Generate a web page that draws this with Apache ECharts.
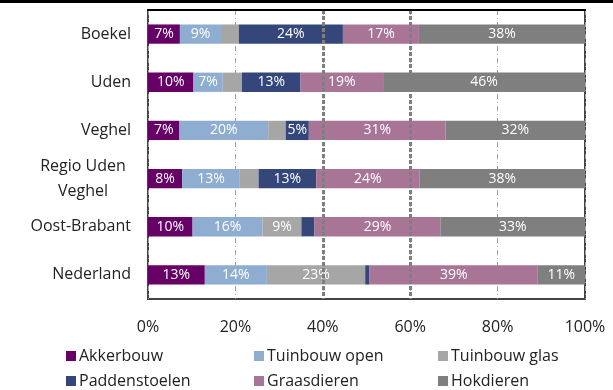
<!DOCTYPE html>
<html>
<head>
<meta charset="utf-8">
<script src="https://cdn.jsdelivr.net/npm/echarts@6/dist/echarts.min.js"></script>
<style>
  html, body { margin: 0; padding: 0; background: #fff; }
  #chart { width: 613px; height: 390px; }
</style>
</head>
<body>
<div id="chart"></div>
<script>
// regio's (van boven naar beneden)
var regions = ['Boekel', 'Uden', 'Veghel', 'Regio Uden\nVeghel', 'Oost-Brabant', 'Nederland']
var seriesNames = ['Akkerbouw', 'Tuinbouw open', 'Tuinbouw glas', 'Paddenstoelen', 'Graasdieren', 'Hokdieren']
var seriesColors = ['#660066', '#8eadd1', '#a6a6a6', '#34467a', '#a87597', '#7f7f7f']

// aandeel per sector (%), geschat uit de balklengtes
var akkerbouw = [7.3, 10.4, 7.2, 7.8, 10.2, 13.0]
var tuinbouwOpen = [9.4, 6.7, 20.3, 13.2, 16.0, 14.2]
var tuinbouwGlas = [4.1, 4.4, 4.0, 4.3, 8.9, 22.5]
var paddenstoelen = [23.8, 13.4, 5.3, 13.2, 3.0, 1.0]
var graasdieren = [17.4, 18.9, 31.3, 23.6, 28.8, 38.5]
var hokdieren = [38.0, 46.2, 31.9, 37.9, 33.1, 10.8]

var xTicks = [0, 20, 40, 60, 80, 100]

var allData = [akkerbouw, tuinbouwOpen, tuinbouwGlas, paddenstoelen, graasdieren, hokdieren]
var font = 'Open Sans'

var chart = echarts.init(document.getElementById('chart'))

var series = []
for (var i = 0; i < seriesNames.length; i++) {
  series.push({
    name: seriesNames[i],
    type: 'bar',
    stack: 'totaal',
    barWidth: '40%',
    z: 3,
    itemStyle: { color: seriesColors[i] },
    label: {
      show: true,
      position: 'inside',
      color: '#ffffff',
      fontFamily: font,
      fontSize: 14,
      formatter: function(p) {
        return p.value >= 5 ? Math.round(p.value) + '%' : ''
      }
    },
    data: allData[i]
  })
}
// dikke stippellijnen op 40% en 60% (achter de balken)
series.push({
  name: 'lijnen',
  type: 'line',
  data: [],
  z: 1,
  markLine: {
    silent: true,
    symbol: 'none',
    label: { show: false },
    lineStyle: { color: '#7f7f7f', width: 3, type: [4, 2] },
    data: [{ xAxis: xTicks[2] }, { xAxis: xTicks[3] }]
  }
})

// legenda: 2 rijen, 3 kolommen
var legendLeft = [61, 249, 433]
var legendTop = [343, 368]
var legends = seriesNames.map(function(name, k) {
  return {
    left: legendLeft[k % 3],
    top: legendTop[Math.floor(k / 3)],
    itemWidth: 10,
    itemHeight: 10,
    itemGap: 0,
    icon: 'rect',
    selectedMode: false,
    textStyle: { fontFamily: font, fontSize: 16, color: '#222', padding: [0, 0, 0, -2] },
    data: [name]
  }
})

chart.setOption({
  animation: false,
  grid: {
    left: 148,
    right: 28,
    top: 10,
    bottom: 91,
    show: true,
    borderColor: '#444',
    borderWidth: 2
  },
  legend: legends,
  xAxis: {
    type: 'value',
    min: xTicks[0],
    max: xTicks[xTicks.length - 1],
    interval: 20,
    axisLine: { show: false },
    axisTick: { show: false },
    axisLabel: {
      margin: 20,
      fontFamily: font,
      fontSize: 16,
      color: '#222',
      formatter: '{value}%'
    },
    splitLine: {
      show: true,
      lineStyle: { color: '#a0a0a0', width: 1, type: [5, 3, 1, 3] }
    }
  },
  yAxis: {
    type: 'category',
    inverse: true,
    data: regions,
    axisLine: { show: false },
    axisTick: { show: false },
    axisLabel: {
      margin: 17,
      fontFamily: font,
      fontSize: 16,
      color: '#222',
      lineHeight: 25,
      formatter: function(v) {
        if (v.indexOf('\n') >= 0) {
          return v.split('\n').map(function(s) { return '{c|' + s + '}' }).join('\n')
        }
        return v
      },
      rich: {
        c: { width: 96, align: 'center', fontFamily: font, fontSize: 16, color: '#222', lineHeight: 25 }
      }
    }
  },
  graphic: [
    { type: 'rect', left: 0, top: 0, shape: { width: 613, height: 3 }, style: { fill: '#000' } },
    { type: 'rect', left: 147, top: 9, shape: { width: 439, height: 2 }, style: { fill: '#000' }, z: 100 }
  ],
  series: series
})
</script>
</body>
</html>
